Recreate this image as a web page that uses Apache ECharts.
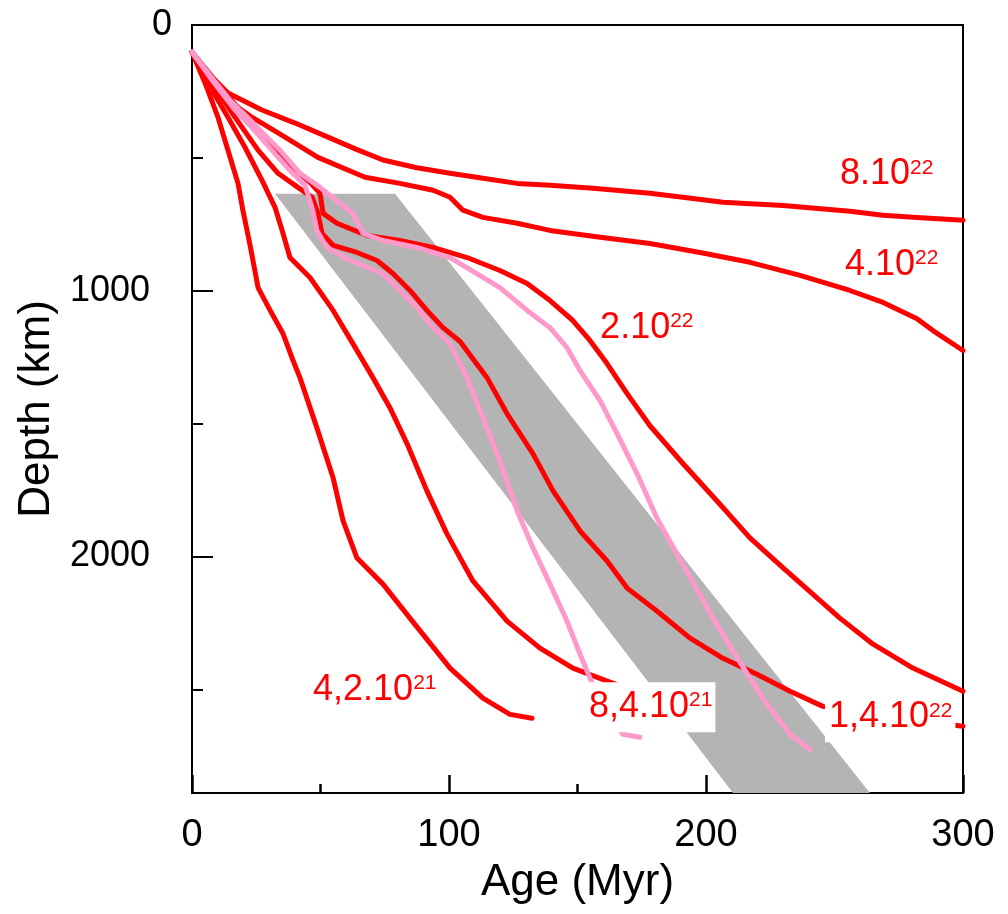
<!DOCTYPE html>
<html><head><meta charset="utf-8">
<script src="https://cdn.jsdelivr.net/npm/echarts@6/dist/echarts.min.js"></script>
<style>html,body{margin:0;padding:0;background:#fff}#c{width:1008px;height:914px}</style>
</head><body><div id="c"></div>
<script>
// Depth (km) vs Age (Myr) curves
const curve8e22 = [[0,102],[5.1,170],[14,256],[27.2,320],[40.1,369],[52.9,422],[64,468],[74.3,508],[87.5,537],[100.4,558],[113.2,577],[126.5,596],[139.3,603],[156,614],[178.2,633],[191,648],[206.6,667],[230,679],[256,701],[268.9,716],[282,724],[300,735]];
const curve4e22 = [[0,102],[10.1,256],[23.3,347],[36.2,422],[49,498],[67.3,573],[80.9,596],[93.8,622],[100.4,648],[105.4,697],[113.2,724],[126.5,746],[139.3,773],[158.8,799],[178.2,822],[197.7,856],[217.1,893],[236.6,942],[256,999],[268.9,1044],[282.1,1105],[288.3,1150],[300,1225]];
const curve2e22 = [[0,102],[8.9,207],[18.7,320],[28.4,434],[38.1,528],[45.9,592],[49.8,633],[51,709],[56.4,746],[68.1,792],[80.9,811],[93.8,837],[107,875],[119.8,924],[130.4,973],[139.3,1037],[148.2,1112],[154.9,1188],[161.5,1274],[169.3,1387],[178.2,1508],[191.1,1651],[204.3,1791],[217.1,1930],[230,2043],[243.2,2156],[252.1,2232],[265,2330],[280.5,2420],[300,2507]];
const curve14e22 = [[0,102],[7.8,219],[16.7,347],[25.7,471],[33.5,558],[41.2,611],[46.7,648],[49,709],[50.6,784],[54.9,829],[64.2,856],[72,886],[78.2,935],[84.8,999],[91.4,1074],[97.7,1139],[104.3,1191],[114.8,1327],[122.6,1463],[132.7,1614],[140.5,1753],[151,1904],[161.5,2017],[169.3,2119],[180.9,2205],[193.8,2307],[206.6,2383],[219.8,2443],[232.7,2507],[245.5,2564],[270,2605],[300,2639]];
const curve8e21 = [[0,102],[6.2,219],[14,347],[20.6,460],[27.2,584],[32.3,686],[35.4,784],[38.1,875],[45.9,950],[54.9,1074],[62.6,1199],[70.4,1327],[77,1440],[83.7,1576],[91.4,1753],[99.2,1915],[109.3,2092],[122.6,2243],[135.4,2345],[148.2,2420],[162.6,2473],[170.4,2500]];
const curve4e21 = [[0,102],[5.1,219],[10.1,347],[14,471],[17.9,596],[19.8,697],[22.6,829],[25.7,988],[30.4,1074],[35.4,1161],[38.9,1252],[42,1327],[48.6,1516],[54.9,1704],[58.8,1866],[64.2,2006],[74.3,2104],[84.8,2232],[100.4,2420],[113.2,2533],[123.7,2594],[132.3,2609]];
const pinkRight = [[0,102],[7,189],[14.8,283],[22.6,358],[28.4,415],[34.2,471],[42,558],[49.8,611],[57.6,671],[62.6,709],[66.5,784],[74.3,811],[87.5,837],[100.4,875],[113.2,950],[119.8,988],[130.4,1074],[139.3,1139],[145.9,1214],[151,1301],[158.8,1414],[165.4,1538],[173.2,1689],[180.9,1855],[188.7,1991],[195.7,2111],[202.7,2232],[210.5,2356],[217.1,2458],[223.7,2556],[232.7,2669],[240.5,2726]];
const pinkLeft = [[0,102],[7.8,207],[16.7,320],[23.3,385],[31.1,471],[38.1,547],[44,603],[47,697],[48.6,773],[52.5,837],[61.5,886],[74.3,935],[80.9,999],[87.5,1063],[93.8,1139],[100.4,1199],[107,1327],[113.2,1478],[119.8,1640],[126.5,1828],[132.7,1968],[139.3,2104],[145.9,2243],[151,2368],[154.9,2458],[160.7,2582],[167.7,2669],[174.3,2680]];
const band = [[32.3,635],[79,635],[263.8,2890],[210.5,2890]];
// labels: [age, depth, main text, superscript, boxed]
const labels = [
  [252.1, 562, '8.10', '22', 0],
  [254.1, 903, '4.10', '22', 0],
  [158.8, 1140, '2.10', '22', 0],
  [47.1, 2501, '4,2.10', '21', 0],
  [152.9, 2567, '8,4.10', '21', 1],
  [246.3, 2605, '1,4.10', '22', 1]
];
const xTicks = [0, 100, 200, 300];
const yTicks = [0, 1000, 2000];

const FONT = 'Liberation Sans, Arial, sans-serif';
const RED = '#ff0000', PINK = '#ff99cc';
const chart = echarts.init(document.getElementById('c'));
function lineSeries(data, color) {
  return {type: 'line', data: data, showSymbol: false, symbol: 'none', z: 3,
    lineStyle: {color: color, width: 5, join: 'round', cap: 'round', opacity: 1}};
}
const richBase = {
  m: {fontSize: 36, fontFamily: FONT, color: RED, lineHeight: 36, verticalAlign: 'middle', opacity: 1},
  s: {fontSize: 21, fontFamily: FONT, color: RED, lineHeight: 36, verticalAlign: 'top', padding: [1, 0, 0, 0], opacity: 1}
};
const labelData = labels.map(l => ({
  value: [l[0], l[1]],
  itemStyle: {opacity: 1},
  label: {
    show: true, position: 'right', distance: 0, opacity: 1,
    formatter: '{m|' + l[2] + '}{s|' + l[3] + '}',
    rich: richBase,
    backgroundColor: l[4] ? '#ffffff' : 'transparent',
    padding: l[4] ? [7, 3, 7, 4] : 0
  }
}));
chart.setOption({
  animation: false,
  grid: {left: 192, right: 45, top: 25, bottom: 121, show: true, borderColor: '#000', borderWidth: 2},
  xAxis: {
    type: 'value', position: 'bottom', min: xTicks[0], max: xTicks[xTicks.length - 1], interval: 100,
    name: 'Age (Myr)', nameLocation: 'middle', nameGap: 68,
    nameTextStyle: {fontSize: 44, fontFamily: FONT, color: '#000'},
    axisLine: {show: true, onZero: false, lineStyle: {color: '#000', width: 2}},
    axisTick: {show: true, inside: true, length: 18, lineStyle: {color: '#000', width: 2.5}},
    minorTick: {show: true, splitNumber: 2, length: 9, lineStyle: {color: '#000', width: 2.5}},
    axisLabel: {fontSize: 38, fontFamily: FONT, color: '#000', margin: 24},
    splitLine: {show: false}
  },
  yAxis: [{
    type: 'value', position: 'left', inverse: true, min: yTicks[0], max: 2890, interval: 1000,
    name: 'Depth (km)', nameLocation: 'middle', nameGap: 121,
    nameTextStyle: {fontSize: 44, fontFamily: FONT, color: '#000'},
    axisLine: {show: true, onZero: false, lineStyle: {color: '#000', width: 2}},
    axisTick: {show: true, inside: true, length: 21, lineStyle: {color: '#000', width: 2}},
    axisLabel: {fontSize: 36, fontFamily: FONT, color: '#000', margin: 42, showMinLabel: false, showMaxLabel: false,
      formatter: v => String(v)},
    splitLine: {show: false}
  }, {
    type: 'value', inverse: true, min: 0, max: 2890, interval: 500, position: 'left',
    axisLine: {show: false, onZero: false},
    axisTick: {show: true, inside: true, length: 11, lineStyle: {color: '#000', width: 2}},
    axisLabel: {fontSize: 36, fontFamily: FONT, color: '#000', margin: 20, showMaxLabel: false,
      formatter: v => (v === 0 ? '0' : '')},
    splitLine: {show: false}
  }],
  series: [
    {type: 'custom', z: 1, clip: true, data: band,
      renderItem: function (params, api) {
        if (params.dataIndex !== 0) return null;
        const pts = band.map(p => api.coord(p));
        return {type: 'polygon', shape: {points: pts}, style: {fill: '#b4b4b4'}};
      }},
    lineSeries(curve8e22, RED),
    lineSeries(curve4e22, RED),
    lineSeries(curve2e22, RED),
    lineSeries(curve14e22, RED),
    lineSeries(curve8e21, RED),
    lineSeries(curve4e21, RED),
    lineSeries(pinkRight, PINK),
    lineSeries(pinkLeft, PINK),
    {type: 'scatter', z: 10, symbolSize: 0, data: labelData, silent: true,
      itemStyle: {opacity: 1}, emphasis: {disabled: true}}
  ]
});
// force a full repaint after layout settles (ticks were only reliably drawn after a refresh)
setTimeout(function () {
  chart.getZr().storage.getDisplayList(true);
  chart.getZr().refreshImmediately();
}, 30);
</script></body></html>
